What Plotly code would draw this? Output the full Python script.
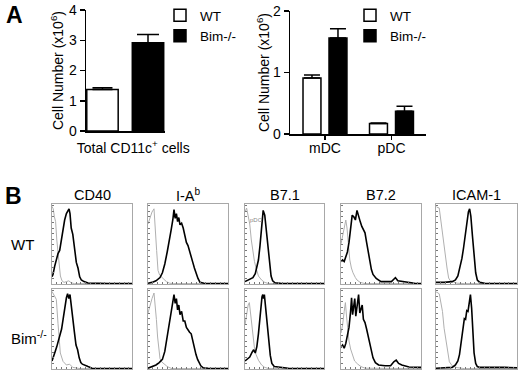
import plotly.graph_objects as go

# ---------------- data: panel A ----------------
total_categories = ["Total CD11c<sup>+</sup> cells"]
total_wt = [1.37]
total_wt_err = [0.06]
total_bim = [2.92]
total_bim_err = [0.27]

subset_categories = ["mDC", "pDC"]
subset_wt = [0.91, 0.17]
subset_wt_err = [0.05, 0.01]
subset_bim = [1.56, 0.37]
subset_bim_err = [0.15, 0.08]

left_y_ticks = [0, 1, 2, 3, 4]
right_y_ticks = [0, 1, 2]

# ---------------- data: panel B (histograms, % of max channel / % of max count) ----------------
markers = ["CD40", "I-A<sup>b</sup>", "B7.1", "B7.2", "ICAM-1"]
row_labels = ["WT", "Bim<sup>-/-</sup>"]

cd40_wt_x = [0, 1.25, 3.3, 5.4, 7.5, 9.6, 11.7, 13.75, 15.8, 18, 20, 21.3, 22.5, 24, 26, 28, 30.4, 32.5, 34.6, 36.7, 40, 45, 55, 70, 100]
cd40_wt_y = [9, 12, 22, 30, 38, 42, 55, 70, 80, 88, 92, 94, 88, 70, 62, 42, 27, 20, 9, 5, 3, 1.2, 0.6, 0.5, 0.5]
cd40_wt_ctrl_x = [0, 1.5, 3, 4.5, 6, 7.5, 9, 10.5, 12.5, 15, 18, 21, 24, 28, 40, 100]
cd40_wt_ctrl_y = [97, 94, 84, 78, 55, 38, 22, 10, 4, 2, 3, 4, 1.5, 0.5, 0.5, 0.5]

iab_wt_x = [0, 5, 10, 15, 18, 21, 24, 27, 29, 31, 32.5, 34, 35.5, 37, 38.5, 40, 42, 44, 46, 48, 50, 52, 54, 56, 58, 60, 62.5, 65, 70, 100]
iab_wt_y = [1, 2, 4, 8, 14, 25, 40, 55, 68, 80, 93, 82, 88, 78, 83, 74, 76, 70, 60, 52, 48, 40, 33, 27, 20, 13, 7, 2, 1, 0.5]
iab_wt_ctrl_x = [0, 3, 5, 7.5, 9, 10.8, 12.5, 14.6, 18.75, 23, 27, 32, 100]
iab_wt_ctrl_y = [75, 85, 90, 94, 75, 42, 17, 11, 7, 3, 1, 0.5, 0.5]

b71_wt_x = [0, 5, 10, 13, 15, 17, 19, 21, 23, 25, 27, 29, 31, 33, 35, 38, 45, 100]
b71_wt_y = [3, 5, 8, 13, 20, 30, 48, 75, 92, 86, 68, 45, 25, 10, 4, 1.5, 0.8, 0.5]
b71_wt_ctrl_x = [0, 2, 4, 6, 8, 10, 12, 14, 17, 21, 25, 30, 100]
b71_wt_ctrl_y = [90, 95, 85, 75, 55, 38, 28, 20, 10, 5, 2, 0.5, 0.5]

b72_wt_x = [0, 2, 4, 6, 8, 10, 12, 14, 16, 18, 20, 22, 24, 26, 28, 30, 32, 34, 36, 38, 40, 44, 50, 58, 63, 66, 68, 71, 75, 84, 92, 100]
b72_wt_y = [28, 30, 28, 34, 40, 52, 72, 86, 84, 80, 92, 84, 78, 72, 68, 64, 52, 40, 26, 18, 12, 7, 3, 3, 3, 6, 8, 4, 3.5, 1.5, 1, 0.5]
b72_wt_ctrl_x = [0, 2, 4, 6, 7.5, 9, 11, 13, 15, 18, 20, 24, 30, 100]
b72_wt_ctrl_y = [50, 60, 72, 80, 70, 55, 30, 20, 14, 8, 5, 2, 0.5, 0.5]

icam_wt_x = [0, 10, 20, 24, 27, 30, 32, 34, 36, 38, 40, 41.5, 43, 45, 47, 49, 51, 54, 60, 100]
icam_wt_y = [2, 2, 3, 5, 10, 22, 32, 45, 62, 80, 90, 94, 85, 60, 32, 14, 5, 2, 1, 0.5]
icam_wt_ctrl_x = [0, 1, 4, 6, 7.4, 9.5, 11.5, 13.6, 15.6, 17.7, 21.8, 26, 35, 100]
icam_wt_ctrl_y = [97, 96, 95, 78, 74, 53, 36, 20, 7.5, 4, 2.5, 1, 0.5, 0.5]

cd40_bim_x = [0, 2, 4, 6, 8, 10, 12, 14, 16, 18, 19.5, 21, 22.5, 24, 26, 28, 30, 32, 34, 36, 38, 41, 45, 50, 100]
cd40_bim_y = [10, 15, 22, 28, 35, 42, 50, 63, 78, 89, 94, 88, 93, 82, 66, 46, 30, 24, 14, 8, 6, 5, 3, 1, 0.5]
cd40_bim_ctrl_x = [0, 3.3, 5.4, 7.5, 8.75, 10.4, 13.75, 18, 22, 26, 35, 100]
cd40_bim_ctrl_y = [97, 91, 87, 57, 36, 20, 9.6, 5, 6, 2, 0.5, 0.5]

iab_bim_x = [0, 5, 10, 14, 18, 21, 24, 27, 29, 31, 32.5, 34, 35.5, 37, 38.5, 40, 42, 44, 46, 48, 50, 52, 54, 56, 58, 60, 62, 64, 66, 69, 75, 100]
iab_bim_y = [1, 3, 5, 8, 12, 22, 40, 57, 72, 86, 93, 82, 88, 74, 80, 68, 72, 60, 60, 52, 48, 46, 44, 34, 26, 18, 12, 7, 4, 1.5, 1, 0.5]
iab_bim_ctrl_x = [0, 3, 5, 7.5, 9, 10.5, 12, 13.5, 15, 17, 20, 23, 26, 30, 100]
iab_bim_ctrl_y = [70, 82, 88, 95, 80, 62, 40, 22, 13, 9, 6, 4, 2, 0.5, 0.5]

b71_bim_x = [0, 3, 6, 9, 11, 13, 15, 17, 18.5, 20, 21.5, 22.5, 23.5, 24.5, 26, 28, 30, 32, 34, 37, 42, 47, 55, 100]
b71_bim_y = [10, 12, 15, 21, 24, 20, 28, 44, 61, 80, 90, 93, 88, 93, 78, 60, 37, 17, 7, 3, 2.5, 2, 1, 0.5]
b71_bim_ctrl_x = [0, 2, 4, 5.5, 7, 8.5, 10, 12, 14, 17, 21, 25, 30, 100]
b71_bim_ctrl_y = [55, 70, 80, 83, 70, 55, 38, 26, 18, 11, 5, 2, 0.5, 0.5]

b72_bim_x = [0, 2, 4, 6, 8, 10, 12, 13.2, 14.5, 16, 17.2, 18.5, 20, 22, 23.5, 25, 26.5, 28, 30, 32, 34, 36, 38, 40, 43, 47, 55, 62, 66, 69, 72, 76, 85, 100]
b72_bim_y = [27, 30, 26, 32, 42, 52, 72, 89, 68, 80, 88, 66, 78, 93, 70, 76, 80, 62, 58, 50, 40, 30, 20, 14, 8, 5, 4, 4, 9, 11, 7, 5, 2.5, 2]
b72_bim_ctrl_x = [0, 2, 4, 5.5, 7, 8.5, 10, 12, 14, 17, 21, 25, 30, 100]
b72_bim_ctrl_y = [45, 55, 72, 83, 65, 50, 35, 25, 18, 10, 6, 3, 1, 0.5]

icam_bim_x = [0, 10, 20, 24, 27, 29, 31, 33, 35, 36.5, 38, 39.5, 41, 42.5, 44, 45.5, 47, 49, 51, 54, 60, 70, 75, 85, 100]
icam_bim_y = [1, 1.5, 2, 5, 10, 18, 32, 50, 63, 62, 73, 72, 84, 93, 76, 45, 20, 7, 3, 2, 2, 2.5, 2.5, 2, 1.5]
icam_bim_ctrl_x = [0, 1, 4, 6, 8, 10, 12.3, 14.4, 16.5, 20, 26, 35, 100]
icam_bim_ctrl_y = [96, 96, 94, 84, 72, 51, 34, 20, 9, 4, 1.7, 0.5, 0.5]

hist_rows = [
    [(cd40_wt_x, cd40_wt_y, cd40_wt_ctrl_x, cd40_wt_ctrl_y),
     (iab_wt_x, iab_wt_y, iab_wt_ctrl_x, iab_wt_ctrl_y),
     (b71_wt_x, b71_wt_y, b71_wt_ctrl_x, b71_wt_ctrl_y),
     (b72_wt_x, b72_wt_y, b72_wt_ctrl_x, b72_wt_ctrl_y),
     (icam_wt_x, icam_wt_y, icam_wt_ctrl_x, icam_wt_ctrl_y)],
    [(cd40_bim_x, cd40_bim_y, cd40_bim_ctrl_x, cd40_bim_ctrl_y),
     (iab_bim_x, iab_bim_y, iab_bim_ctrl_x, iab_bim_ctrl_y),
     (b71_bim_x, b71_bim_y, b71_bim_ctrl_x, b71_bim_ctrl_y),
     (b72_bim_x, b72_bim_y, b72_bim_ctrl_x, b72_bim_ctrl_y),
     (icam_bim_x, icam_bim_y, icam_bim_ctrl_x, icam_bim_ctrl_y)],
]

# ---------------- layout helpers ----------------
W, H = 520, 374
FONT = "Liberation Sans, Arial, Helvetica, sans-serif"


def dx(a, b):
    return [a / W, b / W]


def dy(top, bottom):
    return [1 - bottom / H, 1 - top / H]


fig = go.Figure()

# Panel A left
fig.add_trace(go.Bar(x=total_categories, y=total_wt, name="WT", legend="legend",
                     marker=dict(color="white", line=dict(color="black", width=1.5)),
                     error_y=dict(type="data", symmetric=False, array=total_wt_err, arrayminus=[0],
                                  color="black", thickness=1.5, width=10),
                     xaxis="x", yaxis="y"))
fig.add_trace(go.Bar(x=total_categories, y=total_bim, name="Bim-/-", legend="legend",
                     marker=dict(color="black", line=dict(color="black", width=1.5)),
                     error_y=dict(type="data", symmetric=False, array=total_bim_err, arrayminus=[0],
                                  color="black", thickness=1.5, width=11),
                     xaxis="x", yaxis="y"))
# Panel A right
fig.add_trace(go.Bar(x=subset_categories, y=subset_wt, name="WT", legend="legend2",
                     marker=dict(color="white", line=dict(color="black", width=1.5)),
                     error_y=dict(type="data", symmetric=False, array=subset_wt_err, arrayminus=[0, 0],
                                  color="black", thickness=1.5, width=8),
                     xaxis="x2", yaxis="y2"))
fig.add_trace(go.Bar(x=subset_categories, y=subset_bim, name="Bim-/-", legend="legend2",
                     marker=dict(color="black", line=dict(color="black", width=1.5)),
                     error_y=dict(type="data", symmetric=False, array=subset_bim_err, arrayminus=[0, 0],
                                  color="black", thickness=1.5, width=8),
                     xaxis="x2", yaxis="y2"))

bar_axis_common = dict(showgrid=False, zeroline=False, showline=True, linecolor="black", linewidth=1.5,
                       automargin=False,
                       tickfont=dict(family=FONT, size=14, color="black"), fixedrange=True)

layout = dict(
    template="none",
    width=W, height=H, margin=dict(l=0, r=0, t=0, b=0, pad=0, autoexpand=False),
    paper_bgcolor="white", plot_bgcolor="rgba(0,0,0,0)",
    font=dict(family=FONT, size=14, color="black"),
    barmode="group", bargap=0.218, bargroupgap=0.31,
    showlegend=True,
    xaxis=dict(domain=dx(86, 165), range=[-0.337, 0.3415], ticks="", ticklabelshift=8,
               ticklabelstandoff=4, **bar_axis_common),
    yaxis=dict(domain=dy(10, 131), range=[0, 4], tickvals=left_y_ticks, ticks="outside", ticklen=5,
               tickwidth=1.5, tickcolor="black", anchor="x",
               title=dict(text="Cell Number (x10<sup>6</sup>)", standoff=2,
                          font=dict(family=FONT, size=14)),
               **bar_axis_common),
    xaxis2=dict(domain=dx(290, 426), range=[-0.526, 1.519], ticks="outside", ticklen=4, tickwidth=1.5,
                tickcolor="black", anchor="y2", ticklabelstandoff=-3, **bar_axis_common),
    yaxis2=dict(domain=dy(11, 134), range=[0, 2], tickvals=right_y_ticks, ticks="outside", ticklen=5,
                tickwidth=1.5, tickcolor="black", anchor="x2",
                title=dict(text="Cell Number (x10<sup>6</sup>)", standoff=0,
                           font=dict(family=FONT, size=14)),
                **bar_axis_common),
    legend=dict(x=160 / W, y=1 - 0 / H, xanchor="left", yanchor="top", bgcolor="rgba(0,0,0,0)",
                font=dict(family=FONT, size=13.5), tracegroupgap=0, itemclick=False),
    legend2=dict(x=350 / W, y=1 - 0 / H, xanchor="left", yanchor="top", bgcolor="rgba(0,0,0,0)",
                 font=dict(family=FONT, size=13.5), tracegroupgap=0, itemclick=False),
)

fig.update_layout(**layout)

# Panel B histogram boxes
col_px = [(52, 132), (148, 228), (245, 324), (341, 421), (436, 517)]
row_px = [(204, 284), (289, 369)]

annotations = []
ax_i = 3
for r, row in enumerate(hist_rows):
    for c, (bx, by, cx, cy) in enumerate(row):
        xa = f"x{ax_i}"
        ya = f"y{ax_i}"
        fig.add_trace(go.Scatter(x=cx, y=cy, mode="lines", line=dict(color="#b0b0b0", width=1),
                                 showlegend=False, hoverinfo="skip", xaxis=xa, yaxis=ya))
        fig.add_trace(go.Scatter(x=bx, y=by, mode="lines", line=dict(color="black", width=1.6),
                                 showlegend=False, hoverinfo="skip", xaxis=xa, yaxis=ya))
        common = dict(showgrid=False, zeroline=False, showline=True, mirror=True, linecolor="#a8a8a8",
                      linewidth=1, ticks="inside", ticklen=2, tickcolor="#777", tickwidth=1,
                      showticklabels=False, range=[0, 100], fixedrange=True, automargin=False)
        fig.update_layout(**{
            f"xaxis{ax_i}": dict(domain=dx(*col_px[c]), anchor=ya, dtick=6, **common),
            f"yaxis{ax_i}": dict(domain=dy(*row_px[r]), anchor=xa, dtick=7, **common),
        })
        ax_i += 1

# Column headers
for c, m in enumerate(markers):
    annotations.append(dict(text=m, x=(col_px[c][0] + col_px[c][1]) / 2 / W, y=1 - 195 / H,
                            xref="paper", yref="paper", showarrow=False,
                            font=dict(family=FONT, size=14.5, color="black"),
                            xanchor="center", yanchor="middle"))
# Row labels
for r, lab in enumerate(row_labels):
    annotations.append(dict(text=lab, x=9 / W, y=1 - [245, 337][r] / H, xref="paper", yref="paper",
                            showarrow=False, font=dict(family=FONT, size=15, color="black"),
                            xanchor="left", yanchor="middle"))
# Panel letters
annotations.append(dict(text="<b>A</b>", x=4 / W, y=1 - 15 / H, xref="paper", yref="paper", showarrow=False,
                        font=dict(family=FONT, size=23, color="black"), xanchor="left", yanchor="middle"))
annotations.append(dict(text="<b>B</b>", x=3 / W, y=1 - 196 / H, xref="paper", yref="paper", showarrow=False,
                        font=dict(family=FONT, size=23, color="black"), xanchor="left", yanchor="middle"))
# tiny gate label inside B7.1 WT panel
annotations.append(dict(text="pDC", x=4, y=80, xref="x5", yref="y5", showarrow=False,
                        font=dict(family=FONT, size=6, color="#888"), xanchor="left", yanchor="middle"))

fig.update_layout(annotations=annotations)

fig.write_html("out.html", config={"displayModeBar": False, "staticPlot": True},
               post_script="document.body.style.margin='0';document.body.style.overflow='hidden';")
